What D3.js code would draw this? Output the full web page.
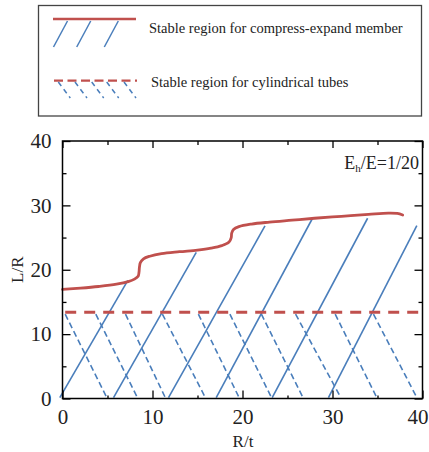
<!DOCTYPE html>
<html>
<head>
<meta charset="utf-8">
<script src="https://cdn.jsdelivr.net/npm/d3@7/dist/d3.min.js"></script>
<style>
  html, body { margin: 0; padding: 0; background: #fff; }
  svg { display: block; font-family: "Liberation Serif", "Times New Roman", serif; }
</style>
</head>
<body>
<svg id="chart" width="429" height="452"></svg>
<script>
// Axis ticks
const xTicks = [0, 10, 20, 30, 40];
const yTicks = [0, 10, 20, 30, 40];
const xMinorTicks = [5, 15, 25, 35];
const yMinorTicks = [5, 15, 25, 35];

// Upper boundary of the compress-expand member stable region (R/t, L/R)
const boundaryRt = [0, 2, 4, 6, 7.3, 8.0, 8.4, 8.5, 8.55, 8.65, 9.0, 9.7, 11, 13, 15, 16.5, 17.7, 18.5, 18.75, 18.8, 19.0, 19.6, 21, 23, 25.5, 28, 31, 34, 36.2, 37.2, 37.8];
const boundaryLR = [16.95, 17.15, 17.4, 17.75, 18.15, 18.55, 19.0, 19.6, 20.4, 21.1, 21.7, 22.1, 22.5, 22.8, 23.05, 23.35, 23.75, 24.3, 25.0, 25.7, 26.25, 26.7, 27.1, 27.4, 27.7, 28.0, 28.3, 28.6, 28.8, 28.75, 28.5];

// Hatch lines of the compress-expand member region
const memberStartRt = [-0.3, 5.67, 11.78, 17.08, 23.3, 29.55];
const memberStartLR = [0.15, 0.15, 0.15, 0.15, 0.15, 0.15];
const memberEndRt = [7.26, 14.86, 22.5, 27.78, 33.9, 39.37];
const memberEndLR = [18.35, 22.7, 26.8, 28.0, 28.0, 26.85];

// Upper limit of the cylindrical tube stable region
const tubeLimitLR = 13.4;

// Hatch lines of the cylindrical tube region
const tubeTopRt = [0.3, 3.7, 7.0, 11.1, 15.1, 18.6, 22.1, 25.9, 30.3, 34.55];
const tubeBottomRt = [4.9, 8.3, 11.4, 15.85, 19.6, 23.2, 26.7, 30.9, 34.9, 39.35];
const tubeTopLR = 13.1;
const tubeBottomLR = 0.2;

const RED = "#c0504d";
const BLUE = "#4a7ebb";

const svg = d3.select("#chart");
const margin = { left: 62.5, right: 6.5, top: 141, bottom: 53.5 };
const W = 429, H = 452;
const x = d3.scaleLinear().domain([0, 40]).range([margin.left, W - margin.right]);
const y = d3.scaleLinear().domain([0, 40]).range([H - margin.bottom, margin.top]);

// ---------- Legend ----------
const legend = svg.append("g");
legend.append("rect")
  .attr("x", 38.5).attr("y", 5.5).attr("width", 383).attr("height", 110.5)
  .attr("fill", "none").attr("stroke", "#444").attr("stroke-width", 1.3);

legend.append("line")
  .attr("x1", 53).attr("x2", 136).attr("y1", 19).attr("y2", 19)
  .attr("stroke", RED).attr("stroke-width", 2.6);
[53.5, 76.7, 104.3].forEach(x0 => {
  legend.append("line")
    .attr("x1", x0).attr("y1", 47).attr("x2", x0 + 14).attr("y2", 21)
    .attr("stroke", BLUE).attr("stroke-width", 1.5);
});
legend.append("text")
  .attr("x", 149).attr("y", 33)
  .attr("font-size", 14.5).attr("fill", "#222")
  .text("Stable region for compress-expand member");

legend.append("line")
  .attr("x1", 54).attr("x2", 137).attr("y1", 80.7).attr("y2", 80.7)
  .attr("stroke", RED).attr("stroke-width", 2.2)
  .attr("stroke-dasharray", "9,4.5");
[58.3, 75, 91.7, 106.7, 124].forEach(x0 => {
  legend.append("line")
    .attr("x1", x0).attr("y1", 82).attr("x2", x0 + 12).attr("y2", 98)
    .attr("stroke", BLUE).attr("stroke-width", 1.5)
    .attr("stroke-dasharray", "5,4");
});
legend.append("text")
  .attr("x", 151).attr("y", 87)
  .attr("font-size", 14.5).attr("fill", "#222")
  .text("Stable region for cylindrical tubes");

// ---------- Plot ----------
const plot = svg.append("g");
const clipId = "plot-clip";
svg.append("clipPath").attr("id", clipId)
  .append("rect")
  .attr("x", x(0) - 4).attr("y", y(40))
  .attr("width", x(40) - x(0) + 4).attr("height", y(0) - y(40));

const marks = plot.append("g").attr("clip-path", `url(#${clipId})`);

// tube hatch (dashed, negative slope)
marks.selectAll("line.tube").data(tubeTopRt).join("line")
  .attr("class", "tube")
  .attr("x1", (d) => x(d)).attr("y1", y(tubeTopLR))
  .attr("x2", (d, i) => x(tubeBottomRt[i])).attr("y2", y(tubeBottomLR))
  .attr("stroke", BLUE).attr("stroke-width", 1.6)
  .attr("stroke-dasharray", "6,3.5");

// member hatch (solid, positive slope)
marks.selectAll("line.member").data(memberStartRt).join("line")
  .attr("class", "member")
  .attr("x1", (d) => x(d)).attr("y1", (d, i) => y(memberStartLR[i]))
  .attr("x2", (d, i) => x(memberEndRt[i])).attr("y2", (d, i) => y(memberEndLR[i]))
  .attr("stroke", BLUE).attr("stroke-width", 1.6);

// tube limit
marks.append("line")
  .attr("x1", x(0.3)).attr("x2", x(40))
  .attr("y1", y(tubeLimitLR)).attr("y2", y(tubeLimitLR))
  .attr("stroke", RED).attr("stroke-width", 2.8)
  .attr("stroke-dasharray", "11,8");

// member boundary curve
const boundary = boundaryRt.map((d, i) => [d, boundaryLR[i]]);
marks.append("path")
  .datum(boundary)
  .attr("fill", "none").attr("stroke", RED).attr("stroke-width", 2.8)
  .attr("stroke-linecap", "round")
  .attr("d", d3.line().x(d => x(d[0])).y(d => y(d[1])).curve(d3.curveCatmullRom.alpha(0.5)));

// ---------- Axes ----------
const tickLen = 8, minorLen = 4;
const axes = plot.append("g");

const xAxisG = axes.append("g").attr("transform", `translate(0,${y(0)})`)
  .call(d3.axisBottom(x).tickValues(xTicks).tickSize(-tickLen).tickPadding(tickLen + 3).tickFormat(d3.format("d")))
  .call(g => g.select(".domain").remove());
axes.append("g").attr("transform", `translate(0,${y(0)})`)
  .call(d3.axisBottom(x).tickValues(xMinorTicks).tickSize(-3).tickFormat(""))
  .call(g => g.select(".domain").remove());
axes.append("g").attr("transform", `translate(0,${y(40)})`)
  .call(d3.axisTop(x).tickValues(xTicks).tickSize(-7).tickFormat(""))
  .call(g => g.select(".domain").remove());
axes.append("g").attr("transform", `translate(0,${y(40)})`)
  .call(d3.axisTop(x).tickValues(xMinorTicks).tickSize(-minorLen).tickFormat(""))
  .call(g => g.select(".domain").remove());

axes.append("g").attr("transform", `translate(${x(0)},0)`)
  .call(d3.axisLeft(y).tickValues(yTicks).tickSize(-tickLen).tickPadding(tickLen + 3).tickFormat(d3.format("d")))
  .call(g => g.select(".domain").remove());
axes.append("g").attr("transform", `translate(${x(0)},0)`)
  .call(d3.axisLeft(y).tickValues(yMinorTicks).tickSize(-minorLen).tickFormat(""))
  .call(g => g.select(".domain").remove());
axes.append("g").attr("transform", `translate(${x(40)},0)`)
  .call(d3.axisRight(y).tickValues(yTicks).tickSize(-tickLen).tickFormat(""))
  .call(g => g.select(".domain").remove());
axes.append("g").attr("transform", `translate(${x(40)},0)`)
  .call(d3.axisRight(y).tickValues(yMinorTicks).tickSize(-minorLen).tickFormat(""))
  .call(g => g.select(".domain").remove());

axes.selectAll(".tick line").attr("stroke", "#000").attr("stroke-width", 1.3);
axes.selectAll(".tick text")
  .attr("font-family", "Liberation Serif, serif")
  .attr("font-size", 21).attr("fill", "#222");

// keep the last x label inside the page edge
xAxisG.selectAll(".tick text").filter(d => d === 40)
  .attr("text-anchor", "end").attr("x", 428 - x(40));

// frame
plot.append("rect")
  .attr("x", x(0)).attr("y", y(40))
  .attr("width", x(40) - x(0)).attr("height", y(0) - y(40))
  .attr("fill", "none").attr("stroke", "#000").attr("stroke-width", 1.5);

// axis titles
svg.append("text")
  .attr("x", (x(0) + x(40)) / 2 + 0.5).attr("y", 447)
  .attr("text-anchor", "middle").attr("font-size", 17).attr("fill", "#222")
  .text("R/t");
svg.append("text")
  .attr("transform", `translate(23,${(y(0) + y(40)) / 2}) rotate(-90)`)
  .attr("text-anchor", "middle").attr("font-size", 17).attr("fill", "#222")
  .text("L/R");

// ratio annotation
const note = svg.append("text")
  .attr("x", 419).attr("y", 168.5)
  .attr("text-anchor", "end").attr("font-size", 18).attr("fill", "#222");
note.append("tspan").text("E");
note.append("tspan").attr("font-size", 11).attr("dy", 3).text("h");
note.append("tspan").attr("dy", -3).text("/E=1/20");
</script>
</body>
</html>
